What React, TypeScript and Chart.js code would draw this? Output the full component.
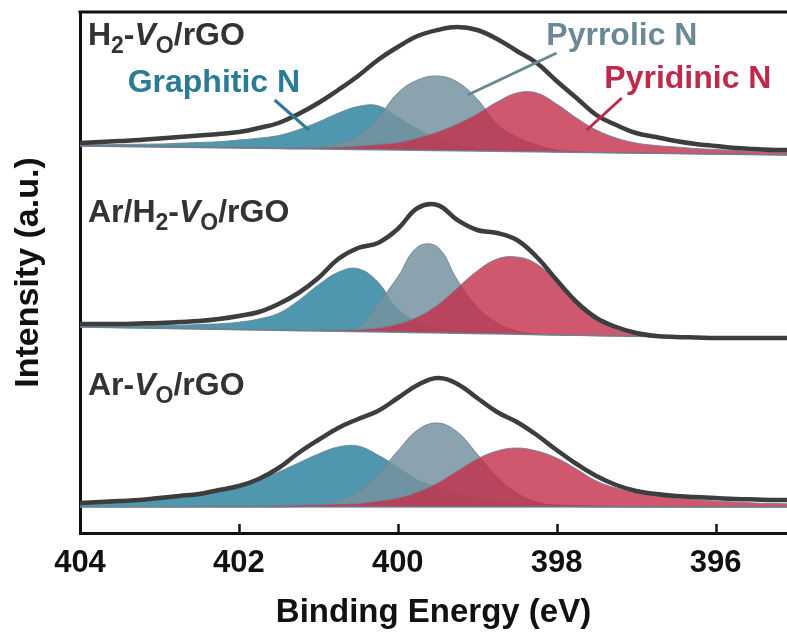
import React, { useEffect, useRef } from "react";
import { Chart, registerables } from "chart.js";
Chart.register(...registerables);

const FONT = "'Liberation Sans', Arial, Helvetica, sans-serif";

// Binding energy grid (eV)
const energy = [404, 403.75, 403.5, 403.25, 403, 402.75, 402.5, 402.25, 402, 401.75, 401.5, 401.25, 401, 400.75, 400.5, 400.25, 400, 399.75, 399.5, 399.25, 399, 398.75, 398.5, 398.25, 398, 397.75, 397.5, 397.25, 397, 396.75, 396.5, 396.25, 396, 395.75, 395.5, 395.25, 395];
const baseEnergy = [404, 395];
const xTicks = [396, 398, 400, 402, 404];

// Ar-VO/rGO (bottom)
const arBase = [26, 26];
const arGraphitic = [30, 31, 32, 33, 34, 36, 39, 42, 47, 53, 61, 70, 79, 86, 87, 78, 66, 53, 46, 40, 35, 32, 30, 29, 28, 27.5, 27, 26.5, 26, 26, 26, 26, 26, 26, 26, 26, 26];
const arPyrrolic = [26, 26, 26, 26, 26, 26, 26, 26, 26, 26, 26, 26.5, 27.7, 32, 41, 59, 82, 103, 110, 101, 79, 56, 40, 31, 27.5, 26.4, 26, 26, 26, 26, 26, 26, 26, 26, 26, 26, 26];
const arPyridinic = [26.5, 26.5, 26.5, 26.5, 26.5, 26.5, 27, 27, 27, 27, 27.5, 28, 28.5, 29, 29.5, 32, 35, 41, 50, 62, 74, 82, 85, 82, 75, 64, 52, 45, 40, 37, 35, 33.5, 32, 31, 30, 29.5, 29];
const arEnvelope = [30, 31, 32, 33, 35, 37, 39, 43, 47, 54, 65, 80, 93, 105, 114, 122, 135, 148, 155, 149, 135, 121, 111, 98, 83, 69, 57, 48, 42, 39, 37, 36, 35, 34, 33.5, 33, 33];

// Ar/H2-VO/rGO (middle)
const arH2Base = [206, 194];
const arH2Graphitic = [207.5, 207.2, 207.3, 207.5, 207.7, 207.8, 208.5, 209.2, 210.8, 214, 219.7, 232.3, 248, 260.7, 264.3, 251, 223.7, 211.3, 205, 202.2, 200.8, 200, 199.2, 198.3, 198, 197.7, 197.3, 197, 196.7, 196.3, 196, 195.7, 195.3, 195, 194.7, 194.3, 194];
const arH2Pyrrolic = [206, 205.7, 205.3, 205, 204.7, 204.3, 204, 203.7, 203.3, 203, 202.7, 202.3, 202.2, 202.5, 205, 229, 256, 286, 286, 253, 226, 210, 202, 199, 198, 197.7, 197.3, 197, 196.7, 196.3, 196, 195.7, 195.3, 195, 194.7, 194.3, 194];
const arH2Pyridinic = [206.5, 206.2, 205.8, 205.5, 205.2, 204.8, 204.5, 204.2, 203.8, 203.5, 203.2, 202.8, 203, 203, 203.5, 205, 209, 216, 228, 245, 262, 274, 276, 269, 251, 229, 213, 204, 199, 197, 196.3, 195.9, 195.5, 195.1, 194.8, 194.4, 194.1];
const arH2Envelope = [209, 209, 209, 209.5, 210, 211, 212, 214, 217, 221, 229, 240, 255, 274, 285, 290, 304, 325, 328, 313, 303, 300, 293, 276, 253, 231, 215, 206, 200, 197, 196, 195.5, 195, 195, 195, 195, 195];

// H2-VO/rGO (top)
const h2Base = [387, 378];
const h2Graphitic = [388.5, 388.3, 388.5, 388.8, 389, 389.8, 390.5, 391.3, 393, 394.8, 397.5, 403.3, 411, 419.8, 426.5, 427.3, 416, 403.8, 394.5, 388.3, 385, 383.3, 382.5, 381.8, 381, 380.75, 380.5, 380.25, 380, 379.75, 379.5, 379.25, 379, 378.75, 378.5, 378.25, 378];
const h2Pyrrolic = [387, 386.75, 386.5, 386.25, 386, 385.75, 385.5, 385.25, 385, 384.75, 384.5, 384.25, 386, 389, 397, 415, 440, 453, 457, 451, 434, 409, 396, 388, 383, 381.2, 380.5, 380.25, 380, 379.75, 379.5, 379.25, 379, 378.75, 378.5, 378.25, 378];
const h2Pyridinic = [388, 387.8, 387.5, 387.3, 387, 386.8, 386.5, 386.3, 386, 385.8, 385.5, 385.3, 385.5, 386, 387, 388.5, 390.5, 395, 401, 409, 419, 431, 440, 440, 429, 415, 403, 395, 390, 387.5, 386, 384.5, 383.5, 382.5, 381.5, 381, 380.5];
const h2Envelope = [390, 391, 392, 393, 394.5, 396, 397.5, 399, 401, 405, 410, 419, 430, 443, 457, 473, 486, 497, 503, 506, 503, 494, 482, 470, 452, 435, 418, 408, 400, 396, 392, 389, 387, 385, 384, 383, 383];

// Text
const sampleH2 = [{ t: "H" }, { t: "2", sub: true }, { t: "-" }, { t: "V", it: true }, { t: "O", sub: true }, { t: "/rGO" }];
const sampleArH2 = [{ t: "Ar/H" }, { t: "2", sub: true }, { t: "-" }, { t: "V", it: true }, { t: "O", sub: true }, { t: "/rGO" }];
const sampleAr = [{ t: "Ar-" }, { t: "V", it: true }, { t: "O", sub: true }, { t: "/rGO" }];
const sampleLabels = [sampleH2, sampleArH2, sampleAr];
const sampleLabelE = [403.9, 403.9, 403.9];
const sampleLabelY = [488, 311, 138];

const compNames = ["Graphitic N", "Pyrrolic N", "Pyridinic N"];
const compLabelE = [403.4, 398.13, 397.4];
const compLabelY = [441, 488, 445];
const compTextColors = ["#2b7b97", "#6b8995", "#bf2a4b"];
// pointer lines: [E1, y1, E2, y2]
const pointers = [
  [401.55, 433, 401.12, 403],
  [398.0, 480, 399.12, 438],
  [397.18, 435, 397.62, 403],
];

const FILLS = ["rgba(48,133,160,0.85)", "rgba(118,147,160,0.85)", "rgba(196,46,74,0.8)"];
const EDGE = "rgba(110,132,148,0.9)";

type Seg = { t: string; sub?: boolean; it?: boolean };

function drawRich(ctx: CanvasRenderingContext2D, segs: Seg[], x: number, y: number, size: number, color: string) {
  let cx = x;
  ctx.fillStyle = color;
  ctx.textBaseline = "alphabetic";
  ctx.textAlign = "left";
  for (const s of segs) {
    const fs = s.sub ? size * 0.72 : size;
    ctx.font = `${s.it ? "italic " : ""}bold ${fs}px ${FONT}`;
    const dy = s.sub ? size * 0.25 : 0;
    ctx.fillText(s.t, cx, y + dy);
    cx += ctx.measureText(s.t).width;
  }
}

const decor = {
  id: "decor",
  afterDraw(chart: any) {
    const { ctx, chartArea, scales } = chart;
    const x = scales.x;
    const y = scales.y;
    ctx.save();
    // top frame line
    ctx.strokeStyle = "#111";
    ctx.lineWidth = 3;
    ctx.beginPath();
    ctx.moveTo(chartArea.left - 1.5, chartArea.top);
    ctx.lineTo(chartArea.right, chartArea.top);
    ctx.stroke();
    // inward tick marks
    ctx.lineWidth = 2.5;
    for (const v of xTicks) {
      const px = Math.round(x.getPixelForValue(v)) + 0.5;
      ctx.beginPath();
      ctx.moveTo(px, chartArea.bottom);
      ctx.lineTo(px, chartArea.bottom - 9);
      ctx.stroke();
    }
    // pointers
    pointers.forEach((p, i) => {
      ctx.strokeStyle = compTextColors[i];
      ctx.lineWidth = 3;
      ctx.beginPath();
      ctx.moveTo(x.getPixelForValue(p[0]), y.getPixelForValue(p[1]));
      ctx.lineTo(x.getPixelForValue(p[2]), y.getPixelForValue(p[3]));
      ctx.stroke();
    });
    // component labels
    compNames.forEach((n, i) => {
      drawRich(ctx, [{ t: n }], x.getPixelForValue(compLabelE[i]), y.getPixelForValue(compLabelY[i]), 32, compTextColors[i]);
    });
    // sample labels
    sampleLabels.forEach((segs, i) => {
      drawRich(ctx, segs, x.getPixelForValue(sampleLabelE[i]), y.getPixelForValue(sampleLabelY[i]), 32, "#333333");
    });
    ctx.restore();
  },
};

export default function App() {
  const ref = useRef<HTMLCanvasElement>(null);
  useEffect(() => {
    const canvas = ref.current;
    if (!canvas) return;
    const spectra = [
      { base: arBase, comps: [arGraphitic, arPyrrolic, arPyridinic], env: arEnvelope },
      { base: arH2Base, comps: [arH2Graphitic, arH2Pyrrolic, arH2Pyridinic], env: arH2Envelope },
      { base: h2Base, comps: [h2Graphitic, h2Pyrrolic, h2Pyridinic], env: h2Envelope },
    ];
    const datasets: any[] = [];
    spectra.forEach((sp) => {
      const bIdx = datasets.length;
      datasets.push({
        data: baseEnergy.map((e, i) => ({ x: e, y: sp.base[i] })),
        borderColor: EDGE,
        borderWidth: 1.5,
        pointRadius: 0,
        fill: false,
        tension: 0,
        order: 0.5,
      });
      sp.comps.forEach((c, k) => {
        datasets.push({
          data: energy.map((e, i) => ({ x: e, y: c[i] })),
          borderColor: EDGE,
          borderWidth: 1,
          backgroundColor: FILLS[k],
          pointRadius: 0,
          fill: bIdx,
          tension: 0.4,
          order: 3 - k,
        });
      });
      datasets.push({
        data: energy.map((e, i) => ({ x: e, y: sp.env[i] })),
        borderColor: "#3d3d3d",
        borderWidth: 4.5,
        pointRadius: 0,
        fill: false,
        tension: 0.4,
        order: 0,
      });
    });

    const chart = new Chart(canvas, {
      type: "line",
      data: { datasets },
      options: {
        animation: false,
        responsive: false,
        devicePixelRatio: 1,
        layout: { padding: { top: 12, right: 0, left: 0, bottom: 0 } },
        plugins: { legend: { display: false }, tooltip: { enabled: false } },
        scales: {
          x: {
            type: "linear",
            reverse: true,
            min: 395.1,
            max: 404,
            afterBuildTicks: (s: any) => {
              s.ticks = xTicks.map((v) => ({ value: v }));
            },
            afterFit: (s: any) => {
              s.height = 100;
            },
            grid: { display: false, drawTicks: false },
            border: { display: true, color: "#111", width: 3 },
            ticks: {
              color: "#111",
              font: { family: FONT, size: 31, weight: "bold" },
              padding: 12,
              maxRotation: 0,
              autoSkip: false,
            },
            title: {
              display: true,
              text: "Binding Energy (eV)",
              color: "#111",
              font: { family: FONT, size: 33, weight: "bold", lineHeight: 1.2 },
              padding: { top: 0, bottom: 0 },
            },
          },
          y: {
            min: 0,
            max: 521,
            afterFit: (s: any) => {
              s.width = 80;
            },
            ticks: { display: false },
            grid: { display: false, drawTicks: false },
            border: { display: true, color: "#111", width: 3 },
            title: {
              display: true,
              text: "Intensity (a.u.)",
              color: "#111",
              font: { family: FONT, size: 34, weight: "bold", lineHeight: 1.2 },
              padding: { top: 8, bottom: 0 },
            },
          },
        },
      } as any,
      plugins: [decor],
    });
    return () => chart.destroy();
  }, []);

  return (
    <div style={{ position: "absolute", left: 0, top: 0, width: 787, height: 633, background: "#fff" }}>
      <canvas ref={ref} width={787} height={633} style={{ width: 787, height: 633, display: "block" }} />
    </div>
  );
}
